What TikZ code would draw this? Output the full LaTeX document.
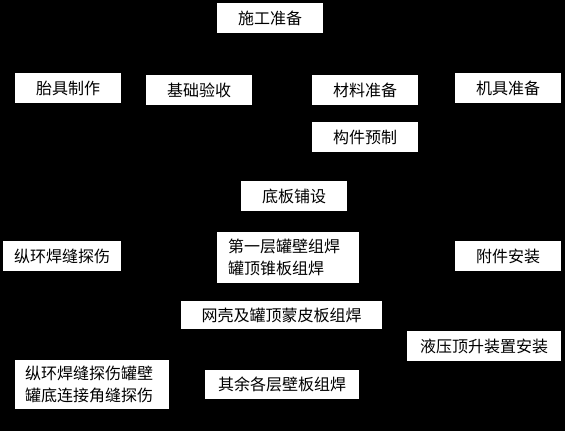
\documentclass[tikz,border=0pt]{standalone}
\usepackage{fontspec}
\setmainfont{Noto Sans CJK SC}
\usetikzlibrary{positioning}
\tikzset{
  procbox/.style={fill=white, text=black, inner sep=0pt, align=center,
                  minimum height=30pt, font=\fontsize{16}{22}\selectfont},
  twobox/.style={procbox, align=left, inner xsep=10pt}}

\begin{document}
\begin{tikzpicture}[x=1pt, y=-1pt]
  \fill[black] (0,0) rectangle (565,431);
  \useasboundingbox (0,0) rectangle (565,431);
  % preparation row
  \node[procbox, minimum width=106pt] (shigong) at (270,18) {施工准备};
  \node[procbox, minimum width=106pt] (taiju) at (68,88) {胎具制作};
  \node[procbox, minimum width=106pt] (jichu) at (199,90) {基础验收};
  \node[procbox, minimum width=106pt] (cailiao) at (365,90) {材料准备};
  \node[procbox, minimum width=106pt] (jiju) at (508,88) {机具准备};
  \node[procbox, minimum width=106pt] (goujian) at (365,137) {构件预制};
  % erection
  \node[procbox, minimum width=106pt] (diban) at (294,196) {底板铺设};
  \node[procbox, minimum width=118pt] (tanshang) at (62,256) {纵环焊缝探伤};
  \node[twobox, text width=120pt, inner xsep=11pt, minimum height=51pt]
    (diyiceng) at (288,257.5) {第一层罐壁组焊\\罐顶锥板组焊};
  \node[procbox, minimum width=106pt] (fujian) at (508,256) {附件安装};
  \node[procbox, minimum width=201pt, minimum height=28pt] (wangke) at (281.5,315)
    {网壳及罐顶蒙皮板组焊};
  \node[procbox, minimum width=154pt] (yeya) at (484,346) {液压顶升装置安装};
  \node[twobox, text width=134pt, minimum height=49pt] (tanshangb) at (92,384.5)
    {纵环焊缝探伤罐壁\\罐底连接角缝探伤};
  \node[procbox, minimum width=154pt, minimum height=29pt] (qiyu) at (282,384.5)
    {其余各层壁板组焊};
\end{tikzpicture}
\end{document}
